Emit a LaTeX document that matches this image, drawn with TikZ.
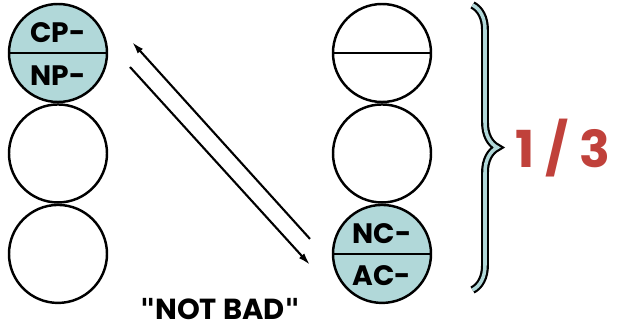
\documentclass[tikz,border=0pt]{standalone}
\usepackage{fontspec}
\setmainfont{Poppins}
\newfontfamily\quotefont{DejaVu Sans}
\usepackage{xcolor}
\usetikzlibrary{arrows.meta,positioning,calc,decorations.pathreplacing}
\definecolor{slotteal}{HTML}{B1D8D9}
\definecolor{scorered}{HTML}{C0413B}
\newcommand{\qmark}{{\quotefont\symbol{34}}}

\begin{document}
\begin{tikzpicture}[
  slot/.style={circle, draw, line width=1.4pt, minimum size=1.96cm, inner sep=0pt},
  half/.style={font=\bfseries\fontsize{16}{16}\selectfont, inner sep=0pt},
  >={Latex[length=7pt,width=4pt]}
]
\useasboundingbox (0,0) rectangle (12.5,6.58);

% Left column
\node[slot, fill=slotteal] (cpnp) at (1.16,5.52) {};
\node[slot, below=0pt of cpnp] (left2) {};
\node[slot, below=0pt of left2] (left3) {};
\draw[line width=1.4pt] (cpnp.west) -- (cpnp.east);
\node[half] (cp) at ($(cpnp.center)+(0,0.40)$) {CP-};
\node[half] (np) at ($(cpnp.center)+(0,-0.46)$) {NP-};

% Right column
\node[slot] (right1) at (7.64,5.52) {};
\node[slot, below=0pt of right1] (right2) {};
\node[slot, fill=slotteal, below=0pt of right2] (ncac) {};
\draw[line width=1.4pt] (right1.west) -- (right1.east);
\draw[line width=1.4pt] (ncac.west) -- (ncac.east);
\node[half] (nc) at ($(ncac.center)+(0,0.40)$) {NC-};
\node[half] (ac) at ($(ncac.center)+(0,-0.44)$) {AC-};

% Arrows
\coordinate (upfrom) at ($(ncac.center)+(-1.44,0.30)$);
\coordinate (upto) at ($(cpnp.center)+(1.48,0.22)$);
\coordinate (downfrom) at ($(cpnp.center)+(1.44,-0.28)$);
\coordinate (downto) at ($(ncac.center)+(-1.44,-0.22)$);
\draw[->, line width=1.2pt] (upfrom) -- (upto);
\draw[->, line width=1.2pt] (downfrom) -- (downto);

% Brace and score
\coordinate (bracetop) at (9.45,6.48);
\coordinate (bracebot) at (9.45,0.78);
\draw[line width=4.5pt, decorate, decoration={brace, amplitude=0.5cm}] (bracetop) -- (bracebot);
\draw[line width=2pt, slotteal, decorate, decoration={brace, amplitude=0.5cm}] (bracetop) -- (bracebot);
\node[font=\bfseries\fontsize{29}{29}\selectfont, text=scorered] (score) at (11.26,3.62) {1 / 3};

\node[font=\bfseries\fontsize{16.5}{16.5}\selectfont, anchor=base, inner sep=0pt] (verdict) at (4.4,0.2) {\qmark NOT BAD\qmark};
\end{tikzpicture}
\end{document}
